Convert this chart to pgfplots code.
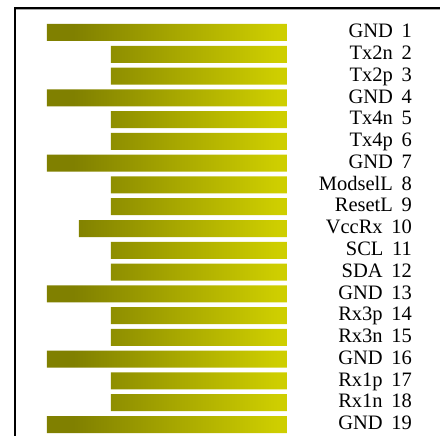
\documentclass[border=0pt]{standalone}
\usepackage{fontspec}
\setmainfont{Liberation Serif}
\usepackage{pgfplots}
\pgfplotsset{compat=1.18}
\definecolor{barL}{RGB}{128,128,0}
\definecolor{barR}{RGB}{206,206,0}
\pgfdeclarehorizontalshading{barshade}{100bp}{color(0bp)=(barL); color(25bp)=(barL); color(30.5bp)=(barL); color(73bp)=(barR); color(100bp)=(barR)}
\begin{document}
\begin{tikzpicture}
\useasboundingbox (0bp,0bp) rectangle (440bp,436bp);
\begin{axis}[
  at={(47bp,0.6bp)}, anchor=south west,
  scale only axis, width=240bp, height=413.8bp,
  x dir=reverse, y dir=reverse,
  xmin=0, xmax=15, ymin=0.5, ymax=19.5,
  axis line style={draw=none},
  xtick=\empty,
  ytick={1,...,19},
  yticklabels={GND\hspace{0.42em}1,Tx2n\hspace{0.42em}2,Tx2p\hspace{0.42em}3,GND\hspace{0.42em}4,Tx4n\hspace{0.42em}5,Tx4p\hspace{0.42em}6,GND\hspace{0.42em}7,ModselL\hspace{0.42em}8,ResetL\hspace{0.42em}9,VccRx\hspace{0.42em}10,SCL\hspace{0.42em}11,SDA\hspace{0.42em}12,GND\hspace{0.42em}13,Rx3p\hspace{0.42em}14,Rx3n\hspace{0.42em}15,GND\hspace{0.42em}16,Rx1p\hspace{0.42em}17,Rx1n\hspace{0.42em}18,GND\hspace{0.42em}19},
  yticklabel pos=right,
  major tick length=0pt,
  ytick style={draw=none},
  yticklabel style={anchor=base east, inner sep=0pt, xshift=125bp, yshift=-5.2bp, font=\fontsize{20.5bp}{22bp}\selectfont},
  clip=false,
]
\addplot[xbar, bar width=17bp, draw=none, shade, shading=barshade] coordinates {
(15,1) (11,2) (11,3) (15,4) (11,5) (11,6) (15,7) (11,8) (11,9) (13,10)
(11,11) (11,12) (15,13) (11,14) (11,15) (15,16) (11,17) (11,18) (15,19)
};
\end{axis}
\draw[black, line width=1.5bp] (14bp,428bp) -- (445bp,428bp);
\draw[black!35, line width=1bp] (16bp,426.8bp) -- (445bp,426.8bp);
\draw[black, line width=2bp] (15bp,428.7bp) -- (15bp,-5bp);
\end{tikzpicture}
\end{document}
